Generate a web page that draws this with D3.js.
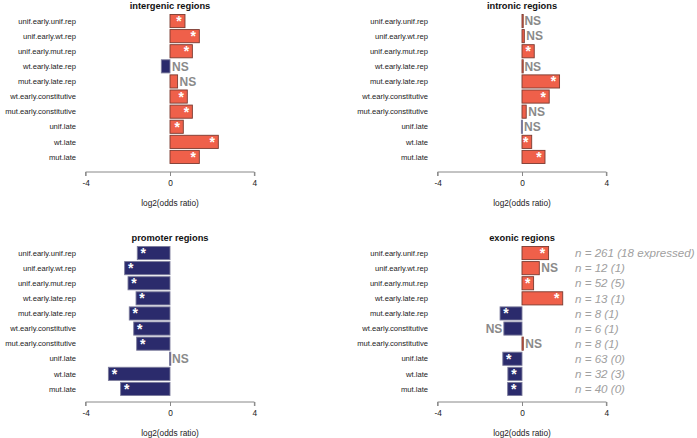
<!DOCTYPE html>
<html><head><meta charset="utf-8">
<script src="https://cdn.jsdelivr.net/npm/d3@7/dist/d3.min.js"></script>
<style>body{margin:0;background:#fff}svg{display:block}</style>
</head><body>
<script>
const categories = ["unif.early.unif.rep","unif.early.wt.rep","unif.early.mut.rep","wt.early.late.rep","mut.early.late.rep","wt.early.constitutive","mut.early.constitutive","unif.late","wt.late","mut.late"];
const titles = ["intergenic regions","intronic regions","promoter regions","exonic regions"];
const intergenic = [0.71,1.39,1.06,-0.41,0.36,0.82,1.06,0.63,2.29,1.39];
const intronic   = [0.02,0.11,0.58,0.02,1.78,1.29,0.20,-0.03,0.46,1.09];
const promoter   = [-1.55,-2.15,-1.99,-1.61,-1.93,-1.72,-1.58,-0.02,-2.92,-2.34];
const exonic     = [1.26,0.82,0.55,1.93,-1.04,-0.86,0.06,-0.91,-0.67,-0.68];
const sigIntergenic = [1,1,1,0,0,1,1,1,1,1];
const sigIntronic   = [0,0,1,0,1,1,0,0,1,1];
const sigPromoter   = [1,1,1,1,1,1,1,0,1,1];
const sigExonic     = [1,0,1,1,1,0,0,1,1,1];
const exonicN = ["n = 261 (18 expressed)","n = 12 (1)","n = 52 (5)","n = 13 (1)","n = 8 (1)","n = 6 (1)","n = 8 (1)","n = 63 (0)","n = 32 (3)","n = 40 (0)"];
const tickValues = [-4,0,4];
const axisTitle = "log2(odds ratio)";

const W=697,H=438;
const svg=d3.select("body").append("svg").attr("width",W).attr("height",H)
  .style("font-family","'Liberation Sans',Arial,Helvetica,sans-serif");

const posCol="#EF604A", negCol="#2B2B6C";
const panels=[
  {title:titles[0],vals:intergenic,sig:sigIntergenic,zx:170,yb:0,ya:0},
  {title:titles[1],vals:intronic,sig:sigIntronic,zx:522,yb:0,ya:0},
  {title:titles[2],vals:promoter,sig:sigPromoter,zx:170,yb:232,ya:230},
  {title:titles[3],vals:exonic,sig:sigExonic,zx:522,yb:232,ya:230,notes:exonicN}
];

panels.forEach(p=>{
  const g=svg.append("g");
  const x=d3.scaleLinear().domain([-4,4]).range([p.zx-84.4,p.zx+84.4]);
  const y=d3.scaleBand().domain(categories).range([p.yb+13.5,p.yb+164.5]).paddingInner(0.13).paddingOuter(0.065);
  g.append("text").attr("x",x(0)).attr("y",p.yb+8.5).attr("text-anchor","middle")
    .attr("font-size",9.3).attr("font-weight","bold").attr("fill","#111").text(p.title);
  g.selectAll("text.cat").data(categories).join("text").attr("class","cat")
    .attr("x",x(0)-94).attr("y",d=>y(d)+y.bandwidth()/2).attr("dy","0.35em")
    .attr("text-anchor","end").attr("font-size",7.6).attr("fill","#222").text(d=>d);
  const data=categories.map((c,i)=>({c,v:p.vals[i],s:p.sig[i],n:p.notes?p.notes[i]:null}));
  g.selectAll("rect").data(data).join("rect")
    .attr("x",d=>x(Math.min(0,d.v))).attr("width",d=>Math.max(1.2,Math.abs(x(d.v)-x(0))))
    .attr("y",d=>y(d.c)).attr("height",y.bandwidth())
    .attr("fill",d=>d.v>=0?posCol:negCol)
    .attr("stroke",d=>d.v>=0?"#7a3a30":"#7c7c9c").attr("stroke-width",0.9);
  g.selectAll("text.star").data(data.filter(d=>d.s)).join("text").attr("class","star")
    .attr("x",d=>d.v>=0?x(d.v)-6:x(d.v)+6).attr("y",d=>y(d.c)+y.bandwidth()/2+5)
    .attr("text-anchor","middle").attr("font-size",14).attr("font-weight","bold").attr("fill","#fff").text("*");
  g.selectAll("text.ns").data(data.filter(d=>!d.s)).join("text").attr("class","ns")
    .attr("x",d=>d.v<-0.5?x(d.v)-1.5:x(Math.max(0,d.v))+2)
    .attr("text-anchor",d=>d.v<-0.5?"end":"start")
    .attr("y",d=>y(d.c)+y.bandwidth()/2).attr("dy","0.36em")
    .attr("font-size",12).attr("font-weight","bold").attr("fill","#8a8a8a").text("NS");
  if(p.notes){
    g.selectAll("text.note").data(data).join("text").attr("class","note")
      .attr("x",575).attr("y",d=>y(d.c)+y.bandwidth()/2).attr("dy","0.36em")
      .attr("font-size",11.6).attr("font-style","italic").attr("fill","#a0a0a0").text(d=>d.n);
  }
  const ay=p.ya+172;
  const ax=g.append("g").attr("transform",`translate(0,${ay})`)
    .call(d3.axisBottom(x).tickValues(tickValues).tickSize(4).tickSizeOuter(0).tickFormat(d3.format("d")));
  ax.select(".domain").attr("stroke","#888").attr("d",`M${x(-4)},4V0H${x(4)}V4`);
  ax.selectAll(".tick line").attr("stroke","#888").attr("y1",0);
  ax.selectAll(".tick text").attr("font-size",8.3).attr("fill","#222").attr("y",8)
    .attr("font-family","'Liberation Sans',Arial,sans-serif").text(d=>d<0?"-"+Math.abs(d):d);
  g.append("text").attr("x",x(0)).attr("y",p.ya+205.5).attr("text-anchor","middle")
    .attr("font-size",8.3).attr("fill","#222").text(axisTitle);
});
</script>
</body></html>
